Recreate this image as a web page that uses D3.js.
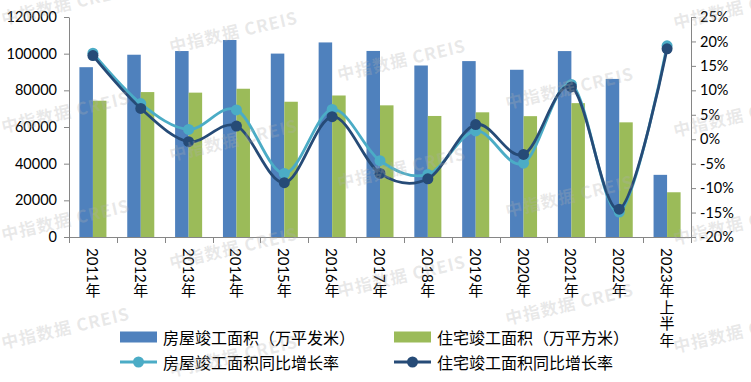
<!DOCTYPE html>
<html>
<head>
<meta charset="utf-8">
<script src="https://cdn.jsdelivr.net/npm/d3@7"></script>
<style>
  html, body { margin: 0; padding: 0; background: #fff; }
  svg { display: block; }
</style>
</head>
<body>
<svg id="chart" width="751" height="382"></svg>
<script>
// ---------------- data ----------------
const categories = ["2011年","2012年","2013年","2014年","2015年","2016年","2017年","2018年","2019年","2020年","2021年","2022年","2023年上半年"];
const houseArea  = [92620, 99425, 101435, 107459, 100039, 106128, 101486, 93550, 95942, 91218, 101412, 86222, 33904];
const residArea  = [74319, 79043, 78741, 80868, 73777, 77185, 71815, 66016, 68011, 65910, 73016, 62539, 24400];
const houseGrowth = [17.6, 7.3, 2.0, 6.0, -7.0, 6.1, -4.4, -7.2, 1.7, -4.9, 11.2, -14.9, 19.1];
const residGrowth = [17.1, 6.3, -0.5, 2.7, -8.9, 4.6, -7.0, -8.1, 3.0, -3.1, 10.7, -14.3, 18.5];
const leftTicks  = [0, 20000, 40000, 60000, 80000, 100000, 120000];
const rightTicks = [-20, -15, -10, -5, 0, 5, 10, 15, 20, 25];
const seriesNames = ["房屋竣工面积（万平发米）", "住宅竣工面积（万平方米）", "房屋竣工面积同比增长率", "住宅竣工面积同比增长率"];
const watermarkText = "中指数据 CREIS";

// ---------------- styles ----------------
const C_BLUE = "#4F81BD", C_GREEN = "#9BBB59", C_LIGHT = "#4BACC6", C_DARK = "#264B77";
const AXIS = "#868686";
const NUM_FONT = "Lato, 'Liberation Sans', sans-serif";
const CJK_FONT = "'Noto Sans CJK SC', 'Noto Sans', sans-serif";

const svg = d3.select("#chart");
const plot = { left: 69, right: 691, top: 17, bottom: 237 };

const x0 = d3.scaleBand().domain(categories).range([plot.left, plot.right]).paddingInner(0).paddingOuter(0);
const x1 = d3.scaleBand().domain(["house", "resid"]).range([0, x0.bandwidth()]).paddingInner(0).paddingOuter(0.77);
const yL = d3.scaleLinear().domain([0, 120000]).range([plot.bottom, plot.top]);
const yR = d3.scaleLinear().domain([-20, 25]).range([plot.bottom, plot.top]);

// ---------------- bars ----------------
const gBars = svg.append("g");
categories.forEach((c, i) => {
  gBars.append("rect")
    .attr("x", x0(c) + x1("house")).attr("width", x1.bandwidth())
    .attr("y", yL(houseArea[i])).attr("height", yL(0) - yL(houseArea[i]))
    .attr("fill", C_BLUE);
  gBars.append("rect")
    .attr("x", x0(c) + x1("resid")).attr("width", x1.bandwidth())
    .attr("y", yL(residArea[i])).attr("height", yL(0) - yL(residArea[i]))
    .attr("fill", C_GREEN);
});

// ---------------- axes ----------------
const axL = svg.append("g").attr("transform", `translate(${plot.left},0)`)
  .call(d3.axisLeft(yL).tickValues(leftTicks).tickSize(5).tickSizeOuter(0).tickPadding(7).tickFormat(d => String(d)));
const axR = svg.append("g").attr("transform", `translate(${plot.right},0)`)
  .call(d3.axisRight(yR).tickValues(rightTicks).tickSize(5).tickSizeOuter(0).tickPadding(4).tickFormat(d => d + "%"));
[axL, axR].forEach(ax => {
  ax.select(".domain").attr("stroke", AXIS);
  ax.selectAll(".tick line").attr("stroke", AXIS);
  ax.selectAll(".tick text").attr("fill", "#000").style("font-family", NUM_FONT).style("font-size", "14.5px");
});

// bottom axis
const gB = svg.append("g");
gB.append("line").attr("x1", plot.left).attr("x2", plot.right).attr("y1", yL(0) + 0.5).attr("y2", yL(0) + 0.5).attr("stroke", AXIS);
const boundaries = categories.map(c => x0(c)).concat([x0(categories[categories.length - 1]) + x0.bandwidth()]);
boundaries.forEach(b => {
  gB.append("line").attr("x1", Math.round(b) + 0.5).attr("x2", Math.round(b) + 0.5)
    .attr("y1", yL(0)).attr("y2", yL(0) + 6).attr("stroke", AXIS);
});

// category labels: vertical writing (digits rotated, CJK upright), one text each
const labTop = 248, labFs = 15;
categories.forEach(c => {
  const cx = x0(c) + x0.bandwidth() / 2;
  const m = c.match(/^(\d+)(.*)$/);
  const t = gB.append("text")
    .attr("x", cx).attr("y", labTop)
    .style("writing-mode", "vertical-rl")
    .style("font-size", labFs + "px").attr("fill", "#000");
  t.append("tspan").style("font-family", NUM_FONT).text(m[1]);
  t.append("tspan").style("font-family", CJK_FONT).style("letter-spacing", "1.5px").text(m[2]);
});

// ---------------- lines ----------------
const line = (arr) => d3.line()
  .x((d, i) => x0(categories[i]) + x0.bandwidth() / 2)
  .y(d => yR(d))
  .curve(d3.curveCardinal.tension(0))(arr);

function drawSeries(arr, color, r) {
  const g = svg.append("g");
  g.append("path").attr("d", line(arr)).attr("fill", "none").attr("stroke", color).attr("stroke-width", 2.8);
  arr.forEach((v, i) => {
    g.append("circle").attr("cx", x0(categories[i]) + x0.bandwidth() / 2).attr("cy", yR(v))
      .attr("r", r).attr("fill", color);
  });
}
drawSeries(houseGrowth, C_LIGHT, 5.5);
drawSeries(residGrowth, C_DARK, 5.5);

// ---------------- legend ----------------
const lg = svg.append("g");
const legendItems = [
  { x: 120, y: 337, type: "rect", color: C_BLUE, name: seriesNames[0] },
  { x: 394, y: 337, type: "rect", color: C_GREEN, name: seriesNames[1] },
  { x: 120, y: 362, type: "line", color: C_LIGHT, name: seriesNames[2] },
  { x: 394, y: 362, type: "line", color: C_DARK, name: seriesNames[3] }
];
legendItems.forEach(it => {
  if (it.type === "rect") {
    lg.append("rect").attr("x", it.x).attr("y", it.y - 5.5).attr("width", 37).attr("height", 11).attr("fill", it.color);
  } else {
    lg.append("line").attr("x1", it.x).attr("x2", it.x + 37).attr("y1", it.y).attr("y2", it.y)
      .attr("stroke", it.color).attr("stroke-width", 2.8);
    lg.append("circle").attr("cx", it.x + 18.5).attr("cy", it.y).attr("r", 5.5).attr("fill", it.color);
  }
  lg.append("text").attr("x", it.x + 43).attr("y", it.y).attr("dominant-baseline", "central")
    .style("font-family", CJK_FONT).style("font-size", "16px").attr("fill", "#000")
    .text(it.name);
});

// ---------------- watermark ----------------
const wm = svg.append("g").style("pointer-events", "none");
for (let c = 0; c < 5; c++) {
  for (let r = -1; r < 5; r++) {
    const wx = 3 + 168 * c;
    const wy = 25 + 28 * c + 108 * r;
    if (wy < 10 || wy > 400) continue;
    wm.append("text").attr("x", wx).attr("y", wy)
      .attr("transform", `rotate(-13,${wx},${wy})`)
      .style("font-family", CJK_FONT).style("font-size", "17px").style("font-weight", "bold")
      .style("letter-spacing", "1px")
      .attr("fill", "#b0b0b0").attr("fill-opacity", 0.28)
      .text(watermarkText);
  }
}
</script>
</body>
</html>
